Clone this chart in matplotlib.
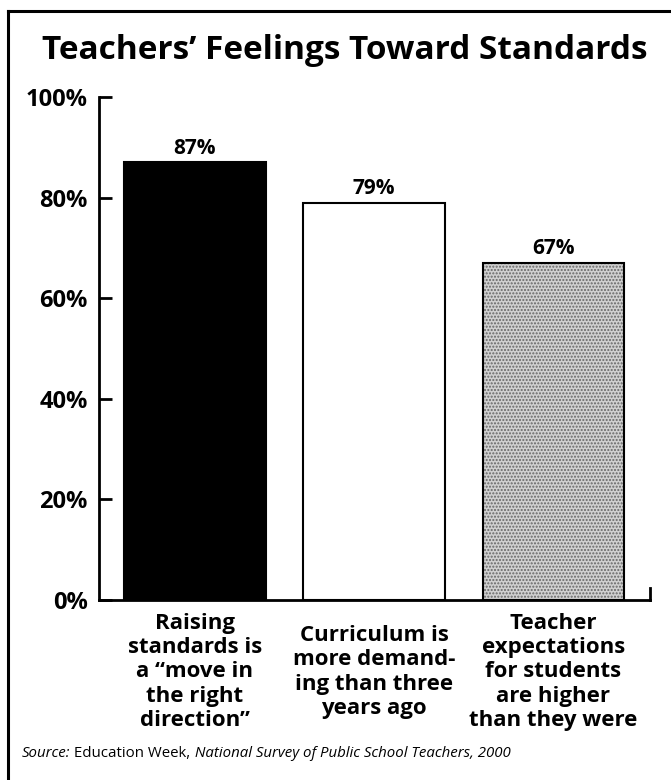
import matplotlib.pyplot as plt
from matplotlib.lines import Line2D

categories = ['Raising\nstandards is\na \u201cmove in\nthe right\ndirection\u201d',
              'Curriculum is\nmore demand-\ning than three\nyears ago',
              'Teacher\nexpectations\nfor students\nare higher\nthan they were']
values = [87, 79, 67]
value_labels = ['87%', '79%', '67%']
ytick_vals = [0, 20, 40, 60, 80, 100]
ytick_labels = ['0%', '20%', '40%', '60%', '80%', '100%']

plt.rcParams['font.family'] = ['Open Sans', 'DejaVu Sans']

fig = plt.figure(figsize=(6.71, 7.80), dpi=100)
ax = fig.add_axes([0.1475, 0.2308, 0.8212, 0.6448])

x = list(range(len(values)))
w = 0.79
# black, white, speckled gray
ax.bar(x[0], values[0], w, color='black', edgecolor='black', linewidth=1.5)
ax.bar(x[1], values[1], w, color='white', edgecolor='black', linewidth=1.5)
ax.bar(x[2], values[2], w, color='#d0d0d0', edgecolor='#666666', hatch='.....', linewidth=0)
ax.bar(x[2], values[2], w, fill=False, edgecolor='black', linewidth=1.5)

for xi, v, lab in zip(x, values, value_labels):
    ax.text(xi, v + 0.7, lab, ha='center', va='bottom', fontsize=15, fontweight='bold')

ax.set_xlim(-0.536, 2.54)
ax.set_ylim(0, 100)
ax.set_yticks(ytick_vals)
ax.set_yticklabels(ytick_labels, fontsize=17, fontweight='bold')
ax.tick_params(axis='y', direction='in', length=9, width=2, pad=8)
ax.set_xticks([])

ax.spines['top'].set_visible(False)
ax.spines['left'].set_linewidth(2)
ax.spines['bottom'].set_linewidth(2)
ax.spines['right'].set_linewidth(2)
ax.spines['right'].set_bounds(0, 2.4)

for xi, c in zip(x, categories):
    ax.annotate(c, xy=(xi, 0), xycoords='data', xytext=(0, -72), textcoords='offset pixels',
                ha='center', va='center', multialignment='center',
                fontsize=16, fontweight='bold', linespacing=1.2, annotation_clip=False)

fig.text(0.514, 0.935, 'Teachers\u2019 Feelings Toward Standards', ha='center', va='center',
         fontsize=24, fontweight='bold')

# source line: mixed italic / upright
t1 = fig.text(22 / 671, 1 - 757 / 780, 'Source:', fontsize=10.8, style='italic', va='baseline')
t2 = ax.annotate(' Education Week,', xy=(1, 0), xycoords=t1, fontsize=10.8,
                 va='bottom', ha='left', annotation_clip=False)
ax.annotate(' National Survey of Public School Teachers, 2000', xy=(1, 0), xycoords=t2,
            fontsize=10.8, style='italic', va='bottom', ha='left', annotation_clip=False)

# outer frame
fig.add_artist(Line2D([8 / 671, 8 / 671], [0, 1 - 11 / 780], color='black', linewidth=2.2))
fig.add_artist(Line2D([8 / 671, 1], [1 - 11 / 780, 1 - 11 / 780], color='black', linewidth=2.2))

fig.savefig('out.png', dpi=100)
